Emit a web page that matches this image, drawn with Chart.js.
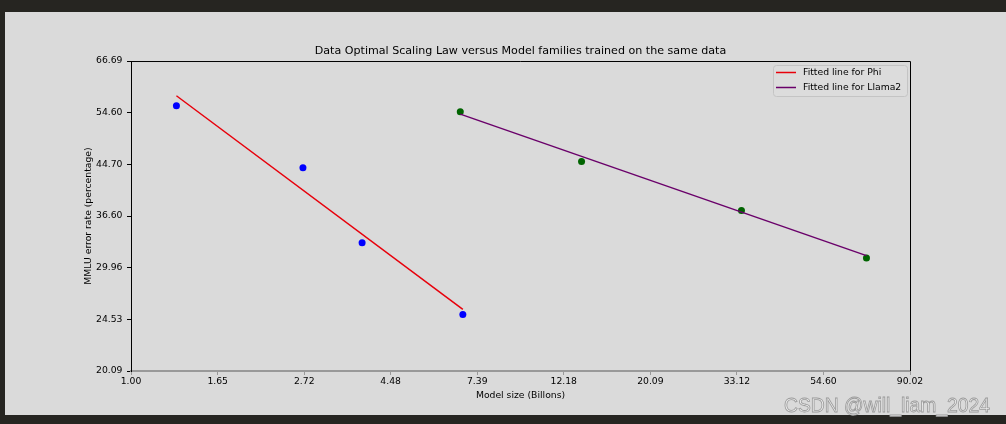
<!DOCTYPE html>
<html>
<head>
<meta charset="utf-8">
<script src="https://cdn.jsdelivr.net/npm/chart.js@4/dist/chart.umd.min.js"></script>
<style>
  html, body { margin: 0; padding: 0; background: #dadada; }
  canvas { display: block; }
</style>
</head>
<body>
<canvas id="scalingChart" width="1006" height="424"></canvas>
<script>
// model sizes (billions) and MMLU error rate (%)
const phiSize = [1.3, 2.7, 3.8, 6.8];
const phiError = [56.1, 44.1, 33.0, 25.0];
const phiFitSize = [1.3, 6.8];
const phiFitError = [58.3, 25.5];

const llamaSize = [6.7, 13.5, 34, 70];
const llamaError = [54.8, 45.2, 37.4, 31.1];
const llamaFitSize = [6.7, 70];
const llamaFitError = [54.3, 31.4];

const xTicks = [1.00, 1.65, 2.72, 4.48, 7.39, 12.18, 20.09, 33.12, 54.60, 90.02];
const yTicks = [20.09, 24.53, 29.96, 36.60, 44.70, 54.60, 66.69];

const toPoints = (xs, ys) => xs.map((x, i) => ({ x: x, y: ys[i] }));

const labelFont = { family: 'DejaVu Sans', size: 9.25 };

// background, dark frame, top/right spines, legend, watermark
const decorPlugin = {
  id: 'decor',
  beforeDraw(chart) {
    const ctx = chart.ctx;
    ctx.save();
    ctx.fillStyle = '#dadada';
    ctx.fillRect(0, 0, chart.width, chart.height);
    ctx.fillStyle = '#262521';
    ctx.fillRect(0, 0, chart.width, 12);
    ctx.fillRect(0, 0, 5, chart.height);
    ctx.fillRect(0, 415, chart.width, chart.height - 415);
    ctx.restore();
  },
  afterDraw(chart) {
    const ctx = chart.ctx;
    const a = chart.chartArea;
    ctx.save();
    ctx.strokeStyle = '#000';
    ctx.lineWidth = 1;
    ctx.beginPath();
    ctx.moveTo(a.left, a.top + 0.5);
    ctx.lineTo(a.right + 0.5, a.top + 0.5);
    ctx.lineTo(a.right + 0.5, a.bottom);
    ctx.stroke();

    // legend box
    const items = chart.data.datasets.filter(d => d.inLegend);
    const bx = 773, by = 65, bw = 134, bh = 31;
    ctx.fillStyle = '#dcdcdc';
    ctx.strokeStyle = '#c4c4c4';
    ctx.beginPath();
    ctx.roundRect(bx + 0.5, by + 0.5, bw, bh, 3);
    ctx.fill();
    ctx.stroke();
    ctx.font = '9.25px "DejaVu Sans"';
    ctx.textBaseline = 'middle';
    items.forEach((d, i) => {
      const ly = 72.5 + i * 15;
      ctx.strokeStyle = d.borderColor;
      ctx.lineWidth = 1.5;
      ctx.beginPath();
      ctx.moveTo(776, ly);
      ctx.lineTo(796, ly);
      ctx.stroke();
      ctx.fillStyle = '#000';
      ctx.fillText(d.label, 803, ly);
    });

    // watermark
    ctx.font = '19.3px "Liberation Sans"';
    ctx.textBaseline = 'alphabetic';
    ctx.textAlign = 'right';
    ctx.lineWidth = 0.8;
    ctx.strokeStyle = '#9a9a9a';
    ctx.fillStyle = '#eeeeee';
    ctx.fillText('CSDN @will_liam_2024', 990, 411.5);
    ctx.strokeText('CSDN @will_liam_2024', 990, 411.5);
    ctx.restore();
  }
};

new Chart(document.getElementById('scalingChart'), {
  type: 'scatter',
  data: {
    datasets: [
      {
        label: 'Fitted line for Phi',
        type: 'line',
        inLegend: true,
        data: toPoints(phiFitSize, phiFitError),
        borderColor: '#e8000b',
        borderWidth: 1.5,
        pointRadius: 0,
        order: 0
      },
      {
        label: 'Fitted line for Llama2',
        type: 'line',
        inLegend: true,
        data: toPoints(llamaFitSize, llamaFitError),
        borderColor: '#6a006a',
        borderWidth: 1.5,
        pointRadius: 0,
        order: 0
      },
      {
        label: 'Phi',
        data: toPoints(phiSize, phiError),
        backgroundColor: '#0000ff',
        borderColor: '#0000ff',
        pointRadius: 3.5,
        borderWidth: 0,
        order: 1
      },
      {
        label: 'Llama2',
        data: toPoints(llamaSize, llamaError),
        backgroundColor: '#006400',
        borderColor: '#006400',
        pointRadius: 3.5,
        borderWidth: 0,
        order: 1
      }
    ]
  },
  options: {
    responsive: false,
    animation: false,
    devicePixelRatio: 1,
    layout: { padding: { left: 0, right: 96, top: 0, bottom: 0 } },
    plugins: {
      legend: { display: false },
      tooltip: { enabled: false },
      title: {
        display: true,
        text: 'Data Optimal Scaling Law versus Model families trained on the same data',
        color: '#000',
        fullSize: false,
        font: { family: 'DejaVu Sans', size: 11.1, weight: 'normal' },
        padding: { top: 44, bottom: 3.7 }
      }
    },
    scales: {
      x: {
        type: 'logarithmic',
        min: 1,
        max: 90.02,
        afterBuildTicks: s => { s.ticks = xTicks.map(v => ({ value: v })); },
        afterFit: s => { s.height = 53; },
        ticks: {
          autoSkip: false,
          maxRotation: 0,
          padding: 1.5,
          color: '#000',
          font: labelFont,
          callback: v => Number(v).toFixed(2)
        },
        grid: { drawOnChartArea: false, tickLength: 4, tickColor: '#999', tickWidth: 1 },
        border: { color: '#999', width: 2 },
        title: {
          display: true,
          text: 'Model size (Billons)',
          color: '#000',
          font: labelFont,
          padding: { top: 0, bottom: 23 }
        }
      },
      y: {
        type: 'logarithmic',
        min: 20.09,
        max: 66.69,
        afterBuildTicks: s => { s.ticks = yTicks.map(v => ({ value: v })); },
        afterFit: s => { s.width = 131; },
        ticks: {
          autoSkip: false,
          padding: 4.5,
          color: '#000',
          font: labelFont,
          callback: v => Number(v).toFixed(2)
        },
        grid: { drawOnChartArea: false, tickLength: 4, tickColor: '#000', tickWidth: 1 },
        border: { color: '#000', width: 1 },
        title: {
          display: true,
          text: 'MMLU error rate (percentage)',
          color: '#000',
          font: labelFont,
          padding: { top: 83, bottom: 0 }
        }
      }
    }
  },
  plugins: [decorPlugin]
});
</script>
</body>
</html>
